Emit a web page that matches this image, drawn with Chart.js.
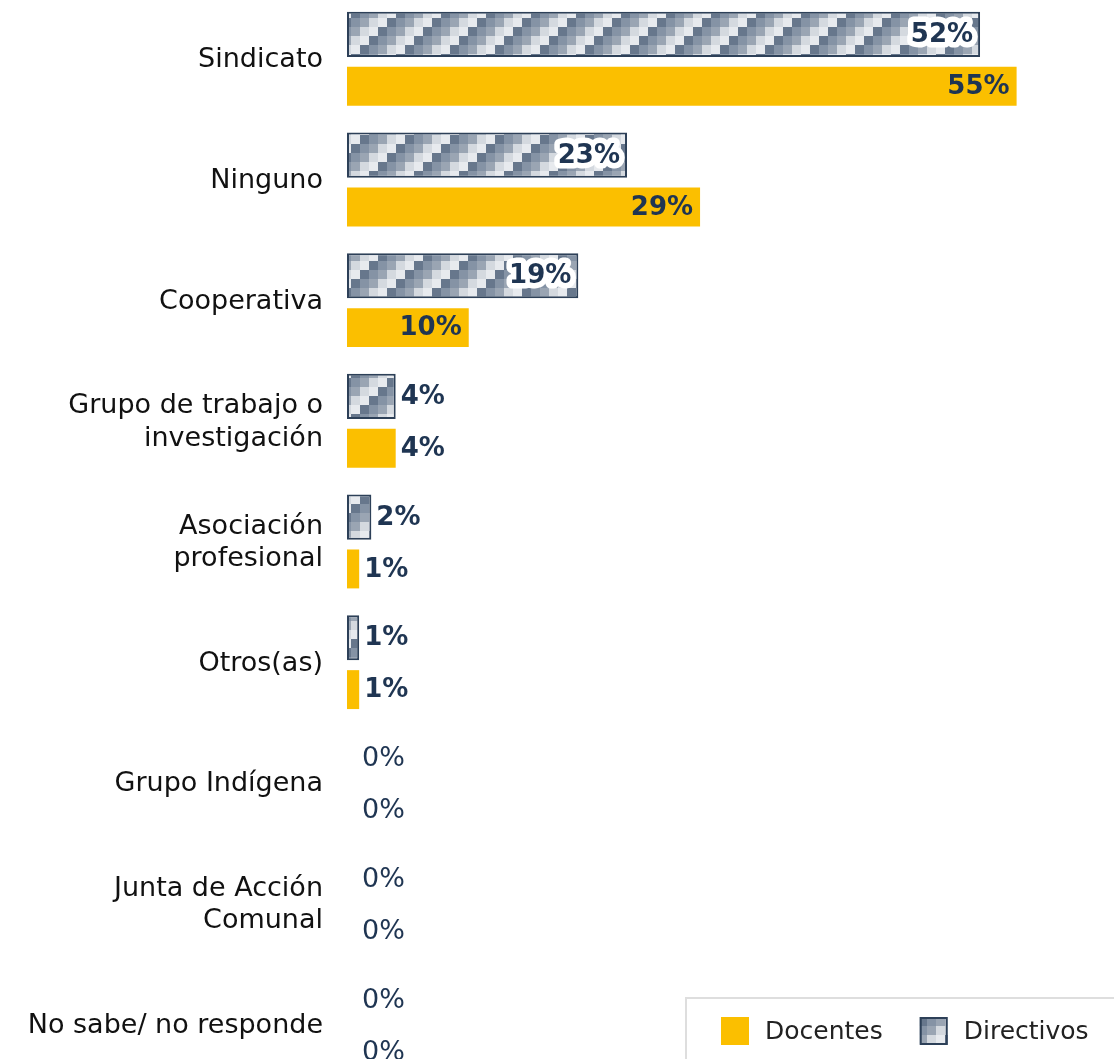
<!DOCTYPE html>
<html>
<head>
<meta charset="utf-8">
<script src="https://cdn.jsdelivr.net/npm/chart.js@4"></script>
<style>
  html, body { margin: 0; padding: 0; background: #ffffff; overflow: hidden; }
  #wrap { position: absolute; left: 0; top: 0; width: 1114px; height: 1086px; }
</style>
</head>
<body>
<div id="wrap"><canvas id="chart" width="1114" height="1086"></canvas></div>
<script>
// ---- data ----
const categories = [
  'Sindicato',
  'Ninguno',
  'Cooperativa',
  ['Grupo de trabajo o', 'investigación'],
  ['Asociación', 'profesional'],
  'Otros(as)',
  'Grupo Indígena',
  ['Junta de Acción', 'Comunal'],
  'No sabe/ no responde'
];
const directivosValues = [52, 23, 19, 4, 2, 1, 0, 0, 0];
const docentesValues   = [55, 29, 10, 4, 1, 1, 0, 0, 0];
const seriesNames = ['Directivos', 'Docentes'];
const legendOrder = ['Docentes', 'Directivos'];

// ---- styles ----
const FONT = "'DejaVu Sans', 'Noto Sans', sans-serif";
const NAVY = '#1f3552';
const YELLOW = '#fbbf00';
const BORDER = '#2d4058';

function makePattern(cell) {
  const shades = ['#67778c', '#8593a5', '#b0b9c4', '#d4d9df', '#e7eaee', '#9aa5b3'];
  const n = 5;
  const c = document.createElement('canvas');
  c.width = cell * n; c.height = cell * n;
  const g = c.getContext('2d');
  const seq = [0, 1, 5, 3, 4];
  for (let r = 0; r < n; r++) {
    for (let col = 0; col < n; col++) {
      const k = (col + r) % n;
      g.fillStyle = shades[seq[k]];
      g.fillRect(col * cell, r * cell, cell, cell);
    }
  }
  return g.createPattern(c, 'repeat');
}

const ctx0 = document.getElementById('chart').getContext('2d');
const pattern = makePattern(9);

const labelPlugin = {
  id: 'barLabels',
  afterDatasetsDraw(chart) {
    const ctx = chart.ctx;
    ctx.save();
    ctx.textBaseline = 'middle';
    chart.data.datasets.forEach((ds, di) => {
      const meta = chart.getDatasetMeta(di);
      meta.data.forEach((bar, i) => {
        const v = ds.data[i];
        const txt = v + '%';
        ctx.font = (v === 0 ? 'normal 27px ' : 'bold 26px ') + FONT;
        const w = ctx.measureText(txt).width;
        const len = bar.x - bar.base;
        let x, inside;
        if (len > w + 14) {
          inside = true;
          ctx.textAlign = 'right';
          x = bar.x - 7;
        } else {
          inside = false;
          ctx.textAlign = 'left';
          x = v === 0 ? bar.base + 15 : bar.x + 5;
        }
        if (inside && ds.label === 'Directivos') {
          ctx.strokeStyle = '#ffffff';
          ctx.lineWidth = 11;
          ctx.lineJoin = 'round';
          ctx.strokeText(txt, x, bar.y + 1);
        }
        ctx.fillStyle = NAVY;
        ctx.fillText(txt, x, bar.y + 1);
      });
    });
    ctx.restore();
  }
};

const legendPlugin = {
  id: 'boxLegend',
  afterDraw(chart) {
    const ctx = chart.ctx;
    ctx.save();
    ctx.strokeStyle = '#dedede';
    ctx.lineWidth = 2;
    ctx.strokeRect(686, 998, 460, 120);
    ctx.font = '25px ' + FONT;
    ctx.textBaseline = 'middle';
    ctx.textAlign = 'left';
    let x = 721;
    const y = 1017, s = 28;
    legendOrder.forEach(name => {
      const ds = chart.data.datasets.find(d => d.label === name);
      ctx.fillStyle = ds.backgroundColor;
      ctx.fillRect(x, y, s, s);
      if (ds.borderWidth) {
        ctx.strokeStyle = ds.borderColor;
        ctx.lineWidth = 2;
        ctx.strokeRect(x + 1, y + 1, s - 2, s - 2);
      }
      ctx.fillStyle = '#222222';
      ctx.fillText(name, x + s + 16, y + s / 2 + 1);
      x += s + 16 + ctx.measureText(name).width + 37;
    });
    ctx.restore();
  }
};

new Chart(ctx0, {
  type: 'bar',
  data: {
    labels: categories,
    datasets: [
      {
        label: seriesNames[0],
        data: directivosValues,
        backgroundColor: pattern,
        borderColor: BORDER,
        borderWidth: 2,
        borderSkipped: false,
        categoryPercentage: 0.86,
        barPercentage: 0.87
      },
      {
        label: seriesNames[1],
        data: docentesValues,
        backgroundColor: YELLOW,
        borderWidth: 0,
        categoryPercentage: 0.86,
        barPercentage: 0.75
      }
    ]
  },
  options: {
    indexAxis: 'y',
    responsive: false,
    animation: false,
    devicePixelRatio: 1,
    layout: { padding: 0 },
    plugins: {
      legend: { display: false },
      tooltip: { enabled: false }
    },
    scales: {
      x: {
        display: false,
        min: 0,
        max: 63
      },
      y: {
        type: 'category',
        grid: { display: false, drawTicks: false },
        border: { display: false },
        afterFit(scale) {
          scale.width = 347;
          scale.paddingTop = 0;
          scale.paddingBottom = 0;
        },
        ticks: {
          color: '#111111',
          padding: 24,
          autoSkip: false,
          font: { family: FONT, size: 27, lineHeight: 1.2 }
        }
      }
    }
  },
  plugins: [labelPlugin, legendPlugin]
});
</script>
</body>
</html>
